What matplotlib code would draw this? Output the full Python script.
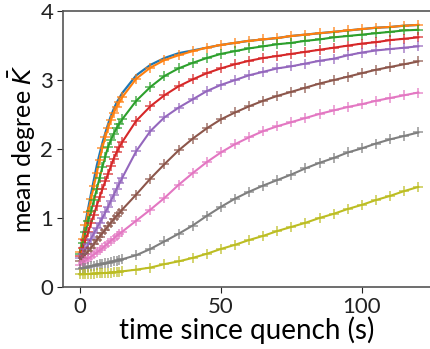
import matplotlib
matplotlib.use("Agg")
import matplotlib.pyplot as plt

# sample times: every second up to 15 s, then every 5 s
times = list(range(0, 16)) + list(range(20, 121, 5))

k_blue = [0.50, 0.72, 0.94, 1.15, 1.36, 1.56, 1.76, 1.93, 2.09, 2.23, 2.36, 2.48, 2.58, 2.67, 2.74, 2.81,
          3.07, 3.22, 3.32, 3.39, 3.43, 3.47, 3.51, 3.54, 3.57, 3.59, 3.61, 3.64, 3.66, 3.68, 3.70, 3.72,
          3.74, 3.76, 3.77, 3.79, 3.80]
k_orange = [0.50, 0.70, 0.90, 1.09, 1.28, 1.47, 1.65, 1.84, 2.02, 2.17, 2.30, 2.42, 2.52, 2.61, 2.68, 2.75,
            3.02, 3.18, 3.29, 3.36, 3.42, 3.47, 3.51, 3.54, 3.57, 3.59, 3.61, 3.64, 3.66, 3.68, 3.70, 3.72,
            3.74, 3.76, 3.77, 3.79, 3.80]
k_green = [0.48, 0.64, 0.80, 0.96, 1.10, 1.26, 1.42, 1.58, 1.74, 1.89, 2.03, 2.13, 2.22, 2.30, 2.37, 2.43,
           2.70, 2.90, 3.06, 3.17, 3.25, 3.32, 3.38, 3.42, 3.46, 3.49, 3.52, 3.54, 3.57, 3.59, 3.62, 3.64,
           3.66, 3.68, 3.70, 3.72, 3.73]
k_red = [0.45, 0.56, 0.68, 0.80, 0.93, 1.05, 1.18, 1.30, 1.42, 1.53, 1.64, 1.75, 1.86, 1.95, 2.03, 2.10,
         2.41, 2.62, 2.78, 2.91, 3.01, 3.10, 3.17, 3.23, 3.28, 3.32, 3.35, 3.38, 3.41, 3.44, 3.47, 3.50,
         3.53, 3.55, 3.58, 3.60, 3.62]
k_purple = [0.42, 0.48, 0.55, 0.62, 0.70, 0.78, 0.85, 0.93, 1.00, 1.08, 1.16, 1.25, 1.33, 1.42, 1.50, 1.58,
            1.97, 2.26, 2.46, 2.60, 2.72, 2.84, 2.93, 3.00, 3.07, 3.12, 3.17, 3.20, 3.24, 3.28, 3.31, 3.36,
            3.40, 3.43, 3.45, 3.47, 3.49]
k_brown = [0.38, 0.42, 0.47, 0.52, 0.57, 0.62, 0.68, 0.73, 0.78, 0.83, 0.88, 0.93, 0.98, 1.03, 1.07, 1.12,
           1.34, 1.57, 1.78, 1.98, 2.15, 2.30, 2.43, 2.53, 2.62, 2.70, 2.77, 2.83, 2.89, 2.95, 3.00, 3.05,
           3.10, 3.15, 3.19, 3.23, 3.27]
k_pink = [0.32, 0.35, 0.38, 0.41, 0.44, 0.47, 0.50, 0.53, 0.56, 0.60, 0.63, 0.67, 0.70, 0.74, 0.77, 0.80,
          0.96, 1.12, 1.29, 1.48, 1.65, 1.81, 1.95, 2.07, 2.17, 2.26, 2.33, 2.39, 2.45, 2.51, 2.56, 2.61,
          2.65, 2.70, 2.74, 2.78, 2.82]
k_gray = [0.26, 0.27, 0.28, 0.29, 0.30, 0.31, 0.32, 0.325, 0.33, 0.34, 0.35, 0.36, 0.37, 0.38, 0.39, 0.40,
          0.46, 0.55, 0.66, 0.77, 0.89, 1.03, 1.16, 1.28, 1.38, 1.47, 1.55, 1.63, 1.72, 1.80, 1.87, 1.95,
          2.01, 2.08, 2.14, 2.19, 2.24]
k_olive = [0.18, 0.182, 0.185, 0.188, 0.19, 0.192, 0.195, 0.198, 0.20, 0.202, 0.205, 0.208, 0.21, 0.215, 0.22, 0.225,
           0.25, 0.28, 0.33, 0.37, 0.42, 0.48, 0.55, 0.61, 0.68, 0.74, 0.81, 0.87, 0.93, 1.00, 1.06, 1.13,
           1.19, 1.26, 1.32, 1.39, 1.45]

series = [k_blue, k_orange, k_green, k_red, k_purple, k_brown, k_pink, k_gray, k_olive]
colors = ["C0", "C1", "C2", "C3", "C4", "C5", "C6", "C7", "C8"]

plt.rcParams["font.family"] = ["Lato", "DejaVu Sans"]

fig = plt.figure(figsize=(4.31, 3.49), dpi=100)
ax = fig.add_axes([0.146, 0.178, 0.854, 0.79])

# blue is the fit only (its points sit under the orange ones)
ax.plot(times, k_blue, color="C0", linewidth=1.6, zorder=2)
for k, c in zip(series[1:], colors[1:]):
    ax.plot(times, k, color=c, linewidth=1.5, zorder=2)
    ax.plot(times, k, linestyle="none", marker="+", markersize=7, markeredgewidth=1.2,
            color=c, alpha=0.75, zorder=3)

ax.set_xlim(-6, 124.5)
ax.set_ylim(0, 4)
ax.set_xticks([0, 50, 100])
ax.set_yticks([0, 1, 2, 3, 4])
ax.tick_params(labelsize=16, length=4, pad=3, colors="#222222")
for s in ["left", "bottom", "top"]:
    ax.spines[s].set_color("#555555")
    ax.spines[s].set_linewidth(1.2)
ax.spines["right"].set_visible(False)

ax.set_xlabel("time since quench (s)", fontsize=20, labelpad=0)
ax.set_ylabel(r"mean degree $\bar{K}$", fontsize=18, labelpad=0)
ax.yaxis.set_label_coords(-0.068, 0.5)

plt.savefig("out.png", dpi=100)
